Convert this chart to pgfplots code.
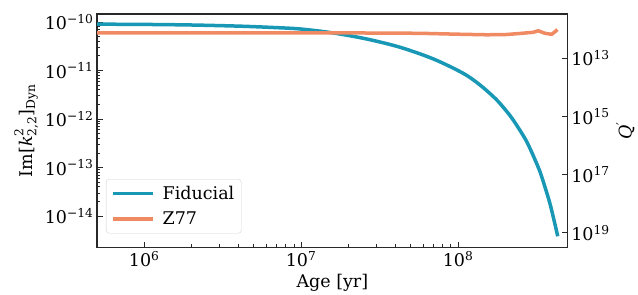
\documentclass[border=0pt]{standalone}
\usepackage{fontspec}
\setmainfont{DejaVu Serif}
\usepackage{amsmath}
\usepackage{pgfplots}
\pgfplotsset{compat=1.18}
\definecolor{teal1}{RGB}{24,152,181}
\definecolor{orng}{RGB}{240,138,98}
\definecolor{spine}{RGB}{40,40,40}
\begin{document}
\begin{tikzpicture}
\begin{axis}[
  name=main,
  scale only axis,
  width=470.7pt, height=233.7pt,
  font=\fontsize{17.5}{21}\selectfont,
  xmode=log, ymode=log,
  xmin=5e5, xmax=5e8,
  ymin=2.24e-15, ymax=1.46e-10,
  axis line style={spine, line width=1.2pt},
  xtick pos=bottom, ytick pos=left,
  tick align=inside,
  major tick length=6pt, minor tick length=3.5pt,
  every tick/.style={spine, line width=0.9pt},
  xtick={1e6,1e7,1e8},
  xticklabels={10\textsuperscript{6},10\textsuperscript{7},10\textsuperscript{8}},
  ytick={1e-14,1e-13,1e-12,1e-11,1e-10},
  yticklabels={10\textsuperscript{−14},10\textsuperscript{−13},10\textsuperscript{−12},10\textsuperscript{−11},10\textsuperscript{−10}},
  xlabel={Age [yr]},
  ylabel={Im[$\text{\itshape k}^{\text{2}}_{\text{2,2}}$]$_{\text{Dyn}}$},
  legend style={at={(0.019,0.294)}, anchor=north west, draw=gray!35, rounded corners=3pt, fill=white, fill opacity=0.8, text opacity=1, inner xsep=5pt, inner ysep=5pt, row sep=7pt, font=\fontsize{17.5}{21}\selectfont},
  legend cell align=left,
  legend image code/.code={\draw[#1, line width=3.5pt] (0pt,0pt) -- (40pt,0pt); \path (46pt,0pt);},
]
\addplot[teal1, line width=3.5pt, smooth] coordinates {
(5.01e5,9.02e-11) (1e6,8.91e-11) (2e6,8.67e-11) (3.98e6,8.22e-11) (6.31e6,7.76e-11)
(9.86e6,7.18e-11) (1.61e7,5.93e-11) (2.62e7,4.46e-11) (4.28e7,3.01e-11) (6.97e7,1.73e-11)
(1.08e8,8.75e-12) (1.38e8,5.04e-12) (1.76e8,2.50e-12) (2.14e8,1.19e-12) (2.44e8,6.38e-13)
(2.74e8,3.43e-13) (3.04e8,1.66e-13) (3.33e8,8.22e-14) (3.59e8,3.89e-14) (3.85e8,1.84e-14)
(4.09e8,8.26e-15) (4.32e8,3.85e-15)
};
\addlegendentry{Fiducial}
\addplot[orng, line width=3.5pt] coordinates {
(5e5,5.95e-11) (1e6,5.95e-11) (1e7,6.0e-11) (1.32e7,6.0e-11) (5.73e7,5.85e-11)
(1e8,5.6e-11) (1.52e8,5.45e-11) (2.0e8,5.5e-11) (2.48e8,5.8e-11) (3.02e8,6.14e-11)
(3.24e8,6.6e-11) (3.58e8,5.85e-11) (3.95e8,5.57e-11) (4.15e8,6.3e-11) (4.30e8,7.0e-11)
};
\addlegendentry{Z77}
\end{axis}
\begin{axis}[
  scale only axis,
  width=470.7pt, height=233.7pt,
  font=\fontsize{17.5}{21}\selectfont,
  xmode=log, ymode=log,
  xmin=5e5, xmax=5e8,
  ymin=3.02e11, ymax=3.24e19,
  y dir=reverse,
  axis x line=none,
  axis y line*=right,
  axis line style={spine, line width=1.2pt, -},
  tick align=inside,
  major tick length=6pt,
  yminorticks=false,
  every tick/.style={spine, line width=0.9pt},
  ytick={1e13,1e15,1e17,1e19},
  yticklabels={10\textsuperscript{13},10\textsuperscript{15},10\textsuperscript{17},10\textsuperscript{19}},
  ylabel={\textit{Q}\textsuperscript{′}},
]
\end{axis}
\path ([shift={(-97pt,-46.3pt)}]main.south west) rectangle ([shift={(70.3pt,14pt)}]main.north east);
\end{tikzpicture}
\end{document}
